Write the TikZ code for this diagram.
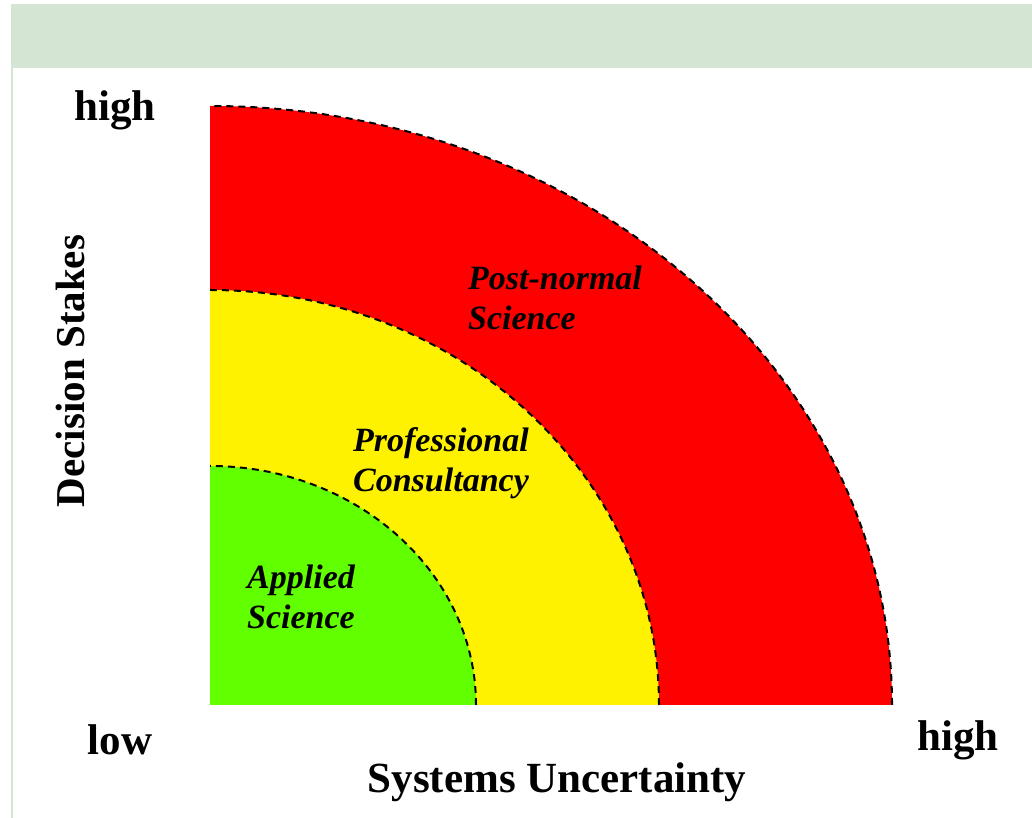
\documentclass[tikz,border=0pt]{standalone}
\usepackage{fontspec}
\setmainfont{Liberation Serif}
\usepackage{tikz}
\usetikzlibrary{positioning,calc}

\definecolor{bandgreen}{HTML}{D5E5D3}
\definecolor{appgreen}{HTML}{62FF00}
\tikzset{
	axislabel/.style={font=\fontsize{43}{46}\selectfont\bfseries, inner sep=0pt},
	zonelabel/.style={font=\fontsize{34}{40}\selectfont\bfseries\itshape, align=left, inner sep=0pt},
	zoneedge/.style={dashed, dash pattern=on 7pt off 5pt, line width=2pt}
}

\begin{document}
\begin{tikzpicture}[x=1pt,y=1pt]
	\useasboundingbox (0,0) rectangle (1032,818);
	% frame
	\fill[bandgreen] (11,750) rectangle (1032,814);
	\fill[bandgreen] (11,0) rectangle (13,750);
	% zones, outer first
	\coordinate (o) at (210,113);
	\fill[red] (o) -- ++(682,0) arc[start angle=0, end angle=90, x radius=682, y radius=599] -- cycle;
	\fill[yellow] (o) -- ++(449,0) arc[start angle=0, end angle=90, x radius=449, y radius=415] -- cycle;
	\fill[appgreen] (o) -- ++(266,0) arc[start angle=0, end angle=90, x radius=266, y radius=239] -- cycle;
	\draw[zoneedge] ($(o)+(682,0)$) arc[start angle=0, end angle=90, x radius=682, y radius=599];
	\draw[zoneedge] ($(o)+(449,0)$) arc[start angle=0, end angle=90, x radius=449, y radius=415];
	\draw[zoneedge] ($(o)+(266,0)$) arc[start angle=0, end angle=90, x radius=266, y radius=239];
	% labels
	\path (555,520) node (pns) [zonelabel] {Post-normal\\Science}
		  (441,355) node (pc) [zonelabel] {Professional\\Consultancy}
		  (301,221) node (as) [zonelabel] {Applied\\Science};
	\path (115,708) node (yhigh) [axislabel] {high}
		  (120,78) node (xlow) [axislabel] {low}
		  (958,78) node (xhigh) [axislabel] {high}
		  (557,36) node (xname) [axislabel] {Systems Uncertainty}
		  (70,447) node (yname) [axislabel, font=\fontsize{41}{44}\selectfont\bfseries, rotate=90] {Decision Stakes};
\end{tikzpicture}
\end{document}
